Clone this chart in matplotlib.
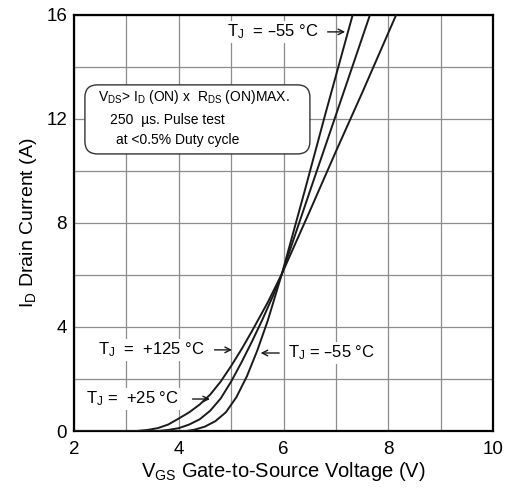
import numpy as np
import matplotlib
matplotlib.use("Agg")
from matplotlib import pyplot as plt
from matplotlib.patches import FancyBboxPatch

plt.rcParams['font.family'] = ['Liberation Sans', 'DejaVu Sans']
plt.rcParams['mathtext.default'] = 'regular'

# Transfer characteristics
vgs_m55 = [2.0, 4.15, 4.3, 4.5, 4.7, 4.9, 5.1, 5.3, 5.5, 5.7, 5.97, 6.4, 6.8, 7.32]
id_m55 = [0.0, 0.0, 0.05, 0.17, 0.38, 0.72, 1.3, 2.1, 3.1, 4.25, 6.05, 9.2, 12.2, 16.0]

vgs_25 = [2.0, 3.6, 3.8, 4.0, 4.2, 4.4, 4.6, 4.8, 5.0, 5.2, 5.4, 5.6, 5.8, 5.97,
          6.5, 7.0, 7.65]
id_25 = [0.0, 0.0, 0.04, 0.11, 0.25, 0.45, 0.78, 1.25, 1.9, 2.65, 3.45, 4.3, 5.2,
         6.05, 9.2, 12.15, 16.0]

vgs_125 = [2.0, 3.2, 3.4, 3.6, 3.8, 4.0, 4.2, 4.4, 4.6, 4.8, 5.0, 5.2, 5.4, 5.7,
           5.97, 6.5, 7.0, 7.5, 8.15]
id_125 = [0.0, 0.0, 0.04, 0.11, 0.25, 0.48, 0.72, 1.02, 1.4, 1.9, 2.5, 3.15, 3.85,
          4.95, 6.05, 8.45, 10.75, 13.0, 16.0]

x_ticks = [2, 4, 6, 8, 10]
y_ticks = [0, 4, 8, 12, 16]

fig = plt.figure(figsize=(5.08, 4.88), dpi=100)
ax = fig.add_axes([0.1457, 0.1168, 0.8248, 0.8525])

for v, i in [(vgs_m55, id_m55), (vgs_25, id_25), (vgs_125, id_125)]:
    ax.plot(v, i, color='#1a1a1a', lw=1.4, zorder=3)

ax.set_xlim(2, 10)
ax.set_ylim(0, 16)
ax.set_xticks(x_ticks)
ax.set_yticks(y_ticks)
ax.set_xticks(np.arange(2, 11, 1), minor=True)
ax.set_yticks(np.arange(0, 17, 2), minor=True)
ax.grid(True, which='both', color='#8c8c8c', lw=0.9)
ax.tick_params(which='both', length=0, labelsize=13.5)
ax.tick_params(axis='x', pad=7)
ax.tick_params(axis='y', pad=5)
for s in ax.spines.values():
    s.set_linewidth(1.6)

ax.set_xlabel('V$_{GS}$ Gate-to-Source Voltage (V)', fontsize=14.5)
ax.set_ylabel('I$_D$ Drain Current (A)', fontsize=14)
ax.xaxis.set_label_coords(0.5, -0.07)
ax.yaxis.set_label_coords(-0.083, 0.5)

# Conditions box
box = FancyBboxPatch((0.026, 0.666), 0.537, 0.166, transform=ax.transAxes,
                     boxstyle='round,pad=0,rounding_size=0.03',
                     fc='white', ec='#333333', lw=1.0, zorder=4)
ax.add_patch(box)
ax.text(0.057, 0.803, 'V$_{DS}$> I$_D$ (ON) x  R$_{DS}$ (ON)MAX.', transform=ax.transAxes,
        fontsize=10, va='center', zorder=5)
ax.text(0.086, 0.748, '250  µs. Pulse test', transform=ax.transAxes,
        fontsize=10, va='center', zorder=5)
ax.text(0.100, 0.700, 'at <0.5% Duty cycle', transform=ax.transAxes,
        fontsize=10, va='center', zorder=5)

# Curve labels
lab = dict(fontsize=12, va='center', zorder=5,
           bbox=dict(fc='white', ec='none', pad=1))
arr = dict(arrowstyle='->', color='#1a1a1a', lw=1.0)
ax.text(4.92, 15.35, 'T$_J$  = –55 °C', **lab)
ax.annotate('', xy=(7.23, 15.35), xytext=(6.79, 15.35), arrowprops=arr, zorder=5)
ax.text(2.46, 3.12, 'T$_J$  =  +125 °C', **lab)
ax.annotate('', xy=(5.07, 3.12), xytext=(4.63, 3.12), arrowprops=arr, zorder=5)
ax.text(2.23, 1.23, 'T$_J$ =  +25 °C', **lab)
ax.annotate('', xy=(4.65, 1.23), xytext=(4.21, 1.23), arrowprops=arr, zorder=5)
ax.text(6.08, 3.0, 'T$_J$ = –55 °C', **lab)
ax.annotate('', xy=(5.51, 3.0), xytext=(5.97, 3.0), arrowprops=arr, zorder=5)

fig.savefig('out.png', dpi=100)
